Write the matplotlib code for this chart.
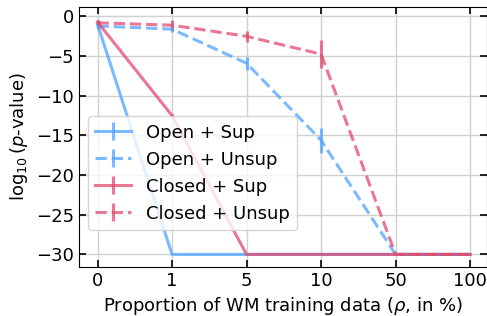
import numpy as np
import matplotlib
matplotlib.use('Agg')
import matplotlib.pyplot as plt

# Proportion of WM training data (categorical positions)
rho_labels = ['0', '1', '5', '10', '50', '100']

open_sup = [-1.0, -30, -30, -30, -30, -30]
open_sup_err = [0.3, 0, 0, 0, 0, 0]
open_unsup = [-1.2, -1.6, -5.9, -15.6, -30, -30]
open_unsup_err = [0.4, 0.4, 0.8, 1.6, 0, 0]
closed_sup = [-0.7, -12.5, -30, -30, -30, -30]
closed_sup_err = [0.3, 0.2, 0, 0, 0, 0]
closed_unsup = [-0.8, -1.1, -2.5, -4.75, -30, -30]
closed_unsup_err = [0.3, 0.6, 0.7, 1.8, 0, 0]

BLUE = '#4da3ff'
RED = '#e24a6e'

x = np.arange(len(rho_labels))

fig = plt.figure(figsize=(4.87, 3.16), dpi=100)
ax = fig.add_axes([0.162, 0.156, 0.837, 0.822])
ax.errorbar(x, open_sup, yerr=open_sup_err, color=BLUE, alpha=0.75, lw=2.2, label='Open + Sup')
ax.errorbar(x, open_unsup, yerr=open_unsup_err, color=BLUE, alpha=0.75, lw=2.2, ls='--', label='Open + Unsup')
ax.errorbar(x, closed_sup, yerr=closed_sup_err, color=RED, alpha=0.75, lw=2.2, label='Closed + Sup')
ax.errorbar(x, closed_unsup, yerr=closed_unsup_err, color=RED, alpha=0.75, lw=2.2, ls='--', label='Closed + Unsup')

ax.set_xticks(x)
ax.set_xticklabels(rho_labels)
ax.set_xlim(-0.25, 5.22)
ax.set_ylim(-31.55, 1.2)
ax.set_yticks([0, -5, -10, -15, -20, -25, -30])
ax.tick_params(direction='in', top=True, right=True, labelsize=13, length=5, width=1.2)
ax.grid(True, color='#d0d0d0', lw=1)
ax.set_xlabel(r'Proportion of WM training data ($\rho$, in %)', fontsize=13)
ax.set_ylabel(r'$\log_{10}$($p$-value)', fontsize=13)
ax.legend(loc='lower left', fontsize=13, bbox_to_anchor=(0.0, 0.107))

plt.savefig('out.png', dpi=100)
